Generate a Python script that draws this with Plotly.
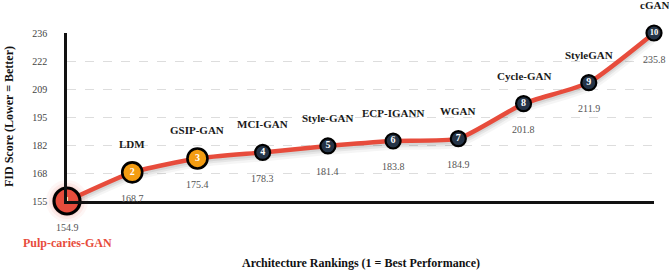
import plotly.graph_objects as go
import numpy as np

ranks = [1, 2, 3, 4, 5, 6, 7, 8, 9, 10]
names = ["Pulp-caries-GAN", "LDM", "GSIP-GAN", "MCI-GAN", "Style-GAN",
         "ECP-IGANN", "WGAN", "Cycle-GAN", "StyleGAN", "cGAN"]
fid = [154.9, 168.7, 175.4, 178.3, 181.4, 183.8, 184.9, 201.8, 211.9, 235.8]
tick_labels = ["155", "168", "182", "195", "209", "222", "236"]

RED = "#e74c3c"
ORANGE = "#f39c12"
DARK = "#253447"
SERIF = "'Liberation Serif', 'Times New Roman', serif"

ymin, ymax = min(fid), max(fid)
tick_vals = list(np.linspace(ymin, ymax, len(tick_labels)))

plot_h = 271 - 33 - 70
px_per_unit = plot_h / (ymax - ymin)

fig = go.Figure()

# soft drop shadow under the line
for off, w, a in [(4, 10, 0.04), (3, 7, 0.06), (2, 5, 0.07)]:
    fig.add_trace(go.Scatter(
        x=ranks, y=[v - off / px_per_unit for v in fid], mode="lines",
        line=dict(color=f"rgba(0,0,0,{a})", width=w, shape="spline", smoothing=0.5),
        hoverinfo="skip", showlegend=False, cliponaxis=False))

# main line
fig.add_trace(go.Scatter(
    x=ranks, y=fid, mode="lines",
    line=dict(color=RED, width=4.5, shape="spline", smoothing=0.5),
    showlegend=False, cliponaxis=False))

# soft glow around best
for s, a in [(42, 0.05), (36, 0.07), (31, 0.09)]:
    fig.add_trace(go.Scatter(
        x=ranks[:1], y=fid[:1], mode="markers",
        marker=dict(size=s, color=f"rgba(231,76,60,{a})", line=dict(width=0)),
        hoverinfo="skip", showlegend=False, cliponaxis=False))

colors = [RED if r == 1 else (ORANGE if r <= 3 else DARK) for r in ranks]
sizes = [26 if r == 1 else (20 if r <= 3 else 15) for r in ranks]
widths = [3.2 if r == 1 else 2.6 if r <= 3 else 2.2 for r in ranks]

fig.add_trace(go.Scatter(
    x=ranks, y=fid, mode="markers+text",
    marker=dict(size=sizes, color=colors, opacity=1,
                line=dict(color="#000000", width=widths)),
    text=[str(r) for r in ranks], textposition="middle center",
    textfont=dict(family=SERIF, size=[10 if r < 10 else 8.5 for r in ranks],
                  color="white", weight="bold"),
    showlegend=False, cliponaxis=False))

annotations = []
for r, n, v in zip(ranks, names, fid):
    if r == 1:
        annotations.append(dict(x=r, y=v, xref="x", yref="y", text=f"<b>{n}</b>",
                                showarrow=False, yshift=-42,
                                font=dict(family=SERIF, size=12, color=RED)))
    else:
        annotations.append(dict(x=r, y=v, xref="x", yref="y", text=f"<b>{n}</b>",
                                showarrow=False, yshift=28,
                                font=dict(family=SERIF, size=11, color="#1a1a1a")))
    annotations.append(dict(x=r, y=v, xref="x", yref="y", text=f"{v:.1f}",
                            showarrow=False, yshift=-26,
                            font=dict(family=SERIF, size=10, color="#555555")))

annotations.append(dict(x=0, y=0.5, xref="paper", yref="paper",
                        text="<b>FID Score (Lower = Better)</b>", textangle=-90,
                        showarrow=False, xanchor="center", yanchor="middle", xshift=-58,
                        font=dict(family=SERIF, size=12, color="#111111")))
annotations.append(dict(x=0.5, y=0, xref="paper", yref="paper",
                        text="<b>Architecture Rankings (1 = Best Performance)</b>",
                        showarrow=False, xanchor="center", yanchor="middle", yshift=-62,
                        font=dict(family=SERIF, size=12, color="#111111")))

fig.update_layout(
    width=669, height=271,
    margin=dict(l=67, r=15, t=33, b=70),
    paper_bgcolor="white", plot_bgcolor="white",
    annotations=annotations,
    xaxis=dict(range=[min(ranks), max(ranks)], showticklabels=False, showgrid=False,
               zeroline=False, showline=True, linecolor="#111111", linewidth=2.5,
               ticks="", layer="above traces"),
    yaxis=dict(range=[ymin, ymax], tickvals=tick_vals, ticktext=tick_labels,
               showgrid=True, gridcolor="#dddddd", griddash="dash", gridwidth=1,
               zeroline=False, showline=True, linecolor="#111111", linewidth=2.5,
               ticks="", ticklabelstandoff=15, layer="above traces",
               tickfont=dict(family=SERIF, size=10, color="#444444")),
)

fig.write_html("out.html")
